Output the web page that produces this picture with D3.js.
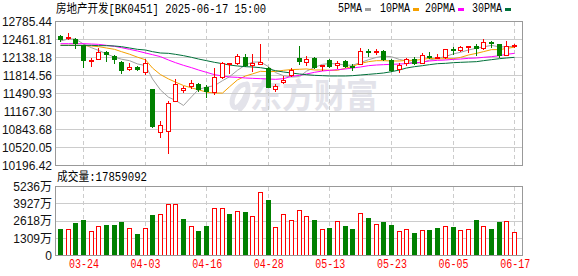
<!DOCTYPE html>
<html><head><meta charset="utf-8">
<script src="https://cdn.jsdelivr.net/npm/d3@7/dist/d3.min.js"></script>
<style>body{margin:0;background:#fff;}svg{display:block;}</style>
</head><body><svg id="c" width="578" height="276"></svg>
<script>
// ---------------- data ----------------
const title = "房地产开发[BK0451] 2025-06-17 15:00";
const volTitle = "成交量:17859092";
const dates = ["03-19","03-20","03-21","03-24","03-25","03-26","03-27","03-28","03-31","04-01",
"04-02","04-03","04-07","04-08","04-09","04-10","04-11","04-14","04-15","04-16",
"04-17","04-18","04-21","04-22","04-23","04-24","04-25","04-28","04-29","04-30",
"05-06","05-07","05-08","05-09","05-12","05-13","05-14","05-15","05-16","05-19",
"05-20","05-21","05-22","05-23","05-26","05-27","05-28","05-29","05-30","06-03",
"06-04","06-05","06-06","06-09","06-10","06-11","06-12","06-13","06-16","06-17"];
const openP = [12524.7,12500.8,12470.8,12357.0,12081.3,12111.2,12243.1,12165.2,12057.3,11925.4,
11967.4,11871.5,11571.8,10792.8,10810.7,11362.1,11553.9,11625.8,11661.7,11601.8,
11511.9,11793.6,12015.3,12033.3,12141.2,11997.4,12027.3,11943.4,11577.8,11697.7,
11817.6,12135.2,12063.3,12135.2,11997.4,12093.2,12009.3,12075.3,11985.4,12027.3,
12249.1,12243.1,12249.1,12087.2,11931.4,12033.3,12105.2,12045.3,12171.1,12129.2,
12141.2,12285.0,12279.0,12333.0,12344.9,12309.0,12416.9,12380.9,12189.1,12357.0];
const highP = [12536.7,12584.7,12488.8,12368.9,12135.2,12303.0,12261.0,12189.1,12069.3,12045.3,
11985.4,12111.2,11577.8,10996.5,11362.1,11745.6,11625.8,11733.7,11679.7,11643.8,
11943.4,12051.3,12039.3,12201.1,12201.1,12201.1,12381.0,11973.4,11655.7,11805.6,
11943.4,12345.0,12165.2,12147.2,12009.3,12111.2,12081.3,12093.2,12015.3,12309.0,
12291.0,12291.0,12273.0,12111.2,12045.3,12135.2,12141.2,12213.1,12231.1,12201.1,
12285.0,12333.0,12350.9,12345.0,12386.9,12470.8,12428.8,12380.9,12428.8,12380.9];
const lowP = [12434.8,12464.8,12315.0,11973.4,11991.4,12105.2,12081.3,12045.3,11865.5,11919.4,
11919.4,11841.5,10888.6,10702.9,10427.2,11350.1,11523.9,11595.8,11541.9,11422.0,
11481.9,11775.6,11865.5,12027.3,11991.4,11901.5,12027.3,11607.8,11541.9,11673.7,
11805.6,12027.3,11997.4,11955.4,11913.5,11961.4,11943.4,11973.4,11913.5,12027.3,
12171.1,12201.1,12093.2,11901.5,11883.5,12009.3,12015.3,12033.3,12123.2,12123.2,
12135.2,12195.1,12255.0,12237.1,12177.1,12291.0,12321.0,12147.2,12177.1,12321.0];
const closeP = [12470.8,12512.7,12392.9,12099.3,12093.2,12231.1,12195.1,12105.2,11913.5,11961.4,
11937.4,12045.3,10906.6,10918.6,11314.1,11655.7,11583.8,11685.7,11577.8,11529.9,
11781.6,12033.3,12039.3,12159.2,12009.3,12033.3,12051.3,11613.8,11625.8,11733.7,
11913.5,12081.3,12105.2,11967.4,12009.3,11985.4,12045.3,11991.4,11967.4,12249.1,
12237.1,12255.0,12105.2,11913.5,12003.3,12105.2,12033.3,12183.1,12141.2,12141.2,
12285.0,12267.0,12327.0,12345.0,12303.0,12410.9,12392.9,12189.1,12350.9,12368.9];
// volume in 万
const volume = [1983,2034,2440,2669,1881,2262,2288,2288,2517,2110,
1601,2110,3050,3178,3940,3889,2745,2262,1830,2212,
3635,3635,3152,3406,3279,3025,4855,4194,2186,3178,
2720,3483,2974,2669,2034,2059,2593,2212,1983,3203,
2822,2364,2517,2288,1830,2034,1678,1957,1907,2059,
2212,2135,1957,2034,2669,2262,1983,2517,2593,1786];
// 1 = up day (red hollow), 0 = down day (green filled)
const volUp = [0,1,0,0,1,1,0,0,0,1, 0,1,0,1,1,1,0,1,0,0,
1,1,0,1,0,1,1,0,1,1, 1,1,1,0,1,0,1,0,0,1,
0,1,0,0,1,1,0,1,0,0, 1,0,1,1,0,1,0,0,1,1];
const ma5 = [12435,12471,12471,12380,12313.8,12265.8,12202.3,12144.8,12107.6,12081.3,
12022.5,11992.6,11752.8,11553.9,11424.4,11368.1,11275.8,11431.6,11563.4,11606.6,
11631.8,11721.7,11792.4,11908.7,12004.5,12054.9,12058.5,11973.4,11866.7,11811.6,
11787.6,11793.6,11891.9,11960.2,12015.3,12029.7,12022.5,11999.8,11999.8,12047.7,
12098.1,12140.0,12162.8,12152.0,12102.8,12076.4,12032.1,12047.7,12093.2,12120.8,
12156.8,12203.5,12232.3,12273.0,12305.4,12330.6,12355.8,12328.2,12329.4,12342.5];
const ma10 = [12357,12357,12357,12351,12345,12333,12309,12285,12243,12197.5,
12144.2,12097.4,11948.8,11830.7,11752.8,11695.3,11634.2,11592.2,11558.6,11515.5,
11499.9,11498.7,11612.0,11736.0,11805.6,11843.3,11890.1,11882.9,11887.7,11908.1,
11921.3,11926.1,11932.6,11913.5,11913.5,11908.7,11908.1,11945.8,11980.0,12031.5,
12063.9,12081.3,12081.3,12075.9,12075.3,12087.3,12086.1,12105.2,12122.6,12111.8,
12116.6,12117.8,12140.0,12183.1,12213.1,12243.7,12279.6,12280.2,12301.2,12324.0];
const ma20 = [12386.9,12386.9,12386.9,12386.9,12380.9,12374.9,12356.9,12339.0,12315.0,12285.0,
12255.0,12219.1,12189.1,12153.2,12093.2,12045.3,11997.4,11955.4,11913.5,11871.5,
11829.5,11805.6,11787.6,11781.6,11769.6,11763.6,11757.6,11751.6,11745.6,11757.6,
11799.6,11817.6,11841.5,11871.5,11895.5,11907.5,11919.4,11931.4,11949.4,11967.4,
11991.4,12003.3,12009.3,12015.3,12021.3,12027.3,12039.3,12057.3,12075.3,12087.2,
12093.2,12105.2,12111.2,12123.2,12129.2,12141.2,12153.2,12171.1,12195.1,12213.1];
const ma30 = [12356.9,12356.9,12356.9,12356.9,12356.9,12350.9,12350.9,12344.9,12333.0,12309.0,
12285.0,12273.0,12243.1,12219.1,12213.1,12195.1,12171.1,12141.2,12111.2,12081.3,
12051.3,12027.3,12003.3,11985.4,11973.4,11967.4,11955.4,11931.4,11901.5,11877.5,
11859.5,11841.5,11829.5,11817.6,11811.6,11805.6,11805.6,11805.6,11811.6,11823.6,
11835.5,11847.5,11859.5,11883.5,11913.5,11949.4,11973.4,11991.4,12009.3,12027.3,
12033.3,12045.3,12051.3,12057.3,12063.3,12081.3,12099.3,12117.2,12129.2,12141.2];
const priceTicks = [10196.42,10520.05,10843.68,11167.30,11490.93,11814.56,12138.18,12461.81,12785.44];
const volTicks = [0,1309,2618,3927,5236];
const dateTicks = ["03-24","04-03","04-16","04-28","05-13","05-23","06-05","06-17"];
const maNames = ["5PMA","10PMA","20PMA","30PMA"];

// ---------------- drawing ----------------
const RED = "#ff0000", GREEN = "#008000";
const maColors = ["#a0a0a0","#f5a000","#ff00ff","#00703a"];
const L = 55.5, R = 522.5, mTop = 21.5, mBot = 165.5, vTop = 186.5, vBot = 255.5;
const svg = d3.select("#c");
const cjk = '"Noto Sans CJK SC","Liberation Sans",sans-serif';
const mono = '"Liberation Mono","DejaVu Sans Mono",monospace';
const tw = s => Array.from(s).reduce((a,ch)=>a + (ch.charCodeAt(0) > 255 ? 12 : 6), 0);

const x = d3.scalePoint().domain(dates).range([56, 518]).padding(0.5);
const cx = d => Math.round(x(d));
const y = d3.scaleLinear().domain([priceTicks[0], priceTicks[priceTicks.length-1]]).range([mBot, mTop]);
const yv = d3.scaleLinear().domain([0, 5236]).range([vBot, vTop]);
const snap = v => Math.round(v - 0.5) + 0.5;

// watermark
const wm = svg.append("g");
wm.append("path")
  .attr("d", "M247,84 C236,84 230,100 233,106 C236,111 244,102 247,92 M247,84 C250,92 246,104 240,109")
  .attr("fill", "none").attr("stroke", "#e3e3ea").attr("stroke-width", 5).attr("stroke-linecap", "round");
wm.append("text").attr("x", 250).attr("y", 108)
  .style("font-family", cjk).style("font-size", "34px").style("font-weight", "bold")
  .attr("fill", "#e3e3ea")
  .attr("textLength", 128).attr("lengthAdjust", "spacingAndGlyphs")
  .text("东方财富");

// grids
const grid = svg.append("g").attr("shape-rendering", "crispEdges");
grid.selectAll(".hg").data(priceTicks.slice(1, -1)).join("line")
  .attr("x1", L).attr("x2", R).attr("y1", d => snap(y(d))).attr("y2", d => snap(y(d)))
  .attr("stroke", "#cccccc");
grid.selectAll(".hv").data(volTicks.slice(1, -1)).join("line")
  .attr("x1", L).attr("x2", R).attr("y1", d => snap(yv(d))).attr("y2", d => snap(yv(d)))
  .attr("stroke", "#cccccc");
[[mTop, mBot], [vTop, vBot]].forEach(([t, b]) => {
  grid.append("g").selectAll("line").data(dateTicks).join("line")
    .attr("x1", d => cx(d) + 0.5).attr("x2", d => cx(d) + 0.5)
    .attr("y1", t).attr("y2", b)
    .attr("stroke", "#cccccc").attr("stroke-dasharray", "4,3");
});

// MA lines
const maSeries = [ma5, ma10, ma20, ma30];
const line = d3.line().x((d, i) => cx(dates[i]) + 0.5).y(d => y(d));
maSeries.forEach((s, k) => {
  svg.append("path").datum(s).attr("d", line).attr("fill", "none")
    .attr("stroke", maColors[k]).attr("stroke-width", 1);
});

// candles
const cg = svg.append("g").attr("shape-rendering", "crispEdges");
dates.forEach((d, i) => {
  const c = cx(d), o = openP[i], h = highP[i], l = lowP[i], cl = closeP[i];
  const up = cl >= o;
  const col = up ? RED : GREEN;
  const yt = Math.round(y(Math.max(o, cl))), yb = Math.round(y(Math.min(o, cl)));
  const yh = Math.round(y(h)), yl = Math.round(y(l));
  cg.append("line").attr("x1", c + 0.5).attr("x2", c + 0.5)
    .attr("y1", yh).attr("y2", yt).attr("stroke", col);
  cg.append("line").attr("x1", c + 0.5).attr("x2", c + 0.5)
    .attr("y1", yb).attr("y2", yl + 1).attr("stroke", col);
  if (up) {
    const hgt = Math.max(yb - yt, 1);
    cg.append("rect").attr("x", c - 1.5).attr("y", yt + 0.5).attr("width", 4).attr("height", hgt)
      .attr("fill", "#fff").attr("stroke", col);
  } else {
    cg.append("rect").attr("x", c - 2).attr("y", yt).attr("width", 5).attr("height", Math.max(yb - yt, 1) + 1)
      .attr("fill", col);
  }
});

// volume bars
const vg = svg.append("g").attr("shape-rendering", "crispEdges");
dates.forEach((d, i) => {
  const c = cx(d), top = Math.round(yv(volume[i]));
  if (volUp[i]) {
    vg.append("rect").attr("x", c - 1.5).attr("y", top + 0.5).attr("width", 4).attr("height", 255 - top - 0.5)
      .attr("fill", "#fff").attr("stroke", RED);
  } else {
    vg.append("rect").attr("x", c - 2).attr("y", top).attr("width", 5).attr("height", 255.5 - top)
      .attr("fill", GREEN);
  }
});

// frames
const fr = svg.append("g").attr("shape-rendering", "crispEdges").attr("fill", "none").attr("stroke", "#999999");
fr.append("rect").attr("x", L).attr("y", mTop).attr("width", R - L).attr("height", mBot - mTop);
fr.append("rect").attr("x", L).attr("y", vTop).attr("width", R - L).attr("height", vBot - vTop);

// axes labels
const yAxis = d3.axisLeft(y).tickValues(priceTicks).tickSize(0).tickPadding(3).tickFormat(d3.format(".2f"));
const ga = svg.append("g").attr("transform", `translate(${L - 0.5},0)`).call(yAxis);
ga.select(".domain").remove();
ga.selectAll("text").style("font-family", '"Liberation Sans",Arial,sans-serif').style("font-size", "12px").attr("fill", "#111");

const vAxis = d3.axisLeft(yv).tickValues(volTicks).tickSize(0).tickPadding(3).tickFormat(d => d === 0 ? "0" : d + "万");
const gv = svg.append("g").attr("transform", `translate(${L - 0.5},0)`).call(vAxis);
gv.select(".domain").remove();
gv.selectAll("text").style("font-family", '"Liberation Sans","Noto Sans CJK SC",sans-serif').style("font-size", "12px").attr("fill", "#111");

const xAxis = d3.axisBottom(x).tickValues(dateTicks).tickSize(0).tickPadding(0);
const gx = svg.append("g").attr("transform", `translate(0.5,259)`).call(xAxis);
gx.select(".domain").remove();
gx.selectAll("text").style("font-family", mono).style("font-size", "12px").attr("fill", RED)
  .attr("textLength", d => tw(d)).attr("lengthAdjust", "spacingAndGlyphs");

// title
svg.append("text").attr("x", 56).attr("y", 13).text(title)
  .style("font-family", '"Liberation Mono","Noto Sans CJK SC",monospace').style("font-size", "12px").attr("fill", "#000")
  .attr("textLength", tw(title)).attr("lengthAdjust", "spacingAndGlyphs");
svg.append("text").attr("x", 57).attr("y", 181).text(volTitle)
  .style("font-family", '"Liberation Mono","Noto Sans CJK SC",monospace').style("font-size", "12px").attr("fill", "#000")
  .attr("textLength", tw(volTitle)).attr("lengthAdjust", "spacingAndGlyphs");

// legend
const legX = [338, 380, 425, 472];
maNames.forEach((n, k) => {
  svg.append("text").attr("x", legX[k]).attr("y", 12).text(n)
    .style("font-family", mono).style("font-size", "12px").attr("fill", "#000")
    .attr("textLength", tw(n)).attr("lengthAdjust", "spacingAndGlyphs");
  svg.append("rect").attr("x", legX[k] + tw(n) + 3).attr("y", 8).attr("width", 6).attr("height", 3)
    .attr("fill", maColors[k]);
});
</script></body></html>
